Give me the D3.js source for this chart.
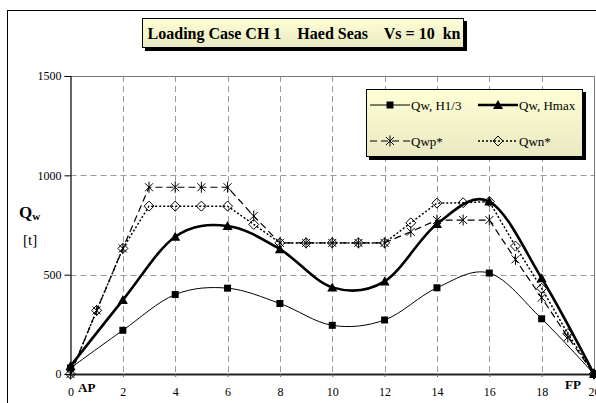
<!DOCTYPE html>
<html>
<head>
<meta charset="utf-8">
<script src="https://cdn.jsdelivr.net/npm/d3@7"></script>
<style>
  body { margin: 0; background: #fff; }
  text { font-family: "Liberation Serif", "Times New Roman", serif; }
</style>
</head>
<body>
<div id="chart"></div>
<script>
// stations along the ship, AP = 0, FP = 20
var evenStations = [0, 2, 4, 6, 8, 10, 12, 14, 16, 18, 20];
var allStations = [0, 1, 2, 3, 4, 5, 6, 7, 8, 9, 10, 11, 12, 13, 14, 15, 16, 17, 18, 19, 20];

var qwH13  = [30, 220, 400, 432, 355, 245, 272, 434, 508, 278, 0];
var qwHmax = [40, 372, 691, 745, 628, 436, 466, 755, 868, 482, 0];
var qwp = [0, 320, 632, 940, 940, 940, 940, 795, 660, 660, 660, 660, 660, 716, 775, 775, 775, 577, 384, 186, 0];
var qwn = [0, 320, 632, 845, 845, 845, 845, 753, 660, 660, 660, 660, 660, 761, 860, 862, 868, 644, 431, 203, 0];

var xTicks = [0, 2, 4, 6, 8, 10, 12, 14, 16, 18, 20];
var yTicks = [0, 500, 1000, 1500];
var gridY = [500, 1000];
var gridX = [2, 4, 6, 8, 10, 12, 14, 16, 18];

var titleText = "Loading Case CH 1    Haed Seas    Vs = 10  kn";

var W = 596, H = 403;
var svg = d3.select("#chart").append("svg")
    .attr("width", W)
    .attr("height", H);

var defs = svg.append("defs");
var grad = defs.append("linearGradient").attr("id", "yel").attr("x1", 0).attr("y1", 0).attr("x2", 0).attr("y2", 1);
grad.append("stop").attr("offset", "0%").attr("stop-color", "#ffffd6");
grad.append("stop").attr("offset", "100%").attr("stop-color", "#e8e8c2");

// outer chart frame (runs off the right / bottom edge)
svg.append("rect")
    .attr("x", 7.5).attr("y", 10.5)
    .attr("width", 640).attr("height", 440)
    .attr("fill", "none").attr("stroke", "#000").attr("stroke-width", 1);

var x = d3.scaleLinear().domain([0, 20]).range([70.5, 594]);
var y = d3.scaleLinear().domain([0, 1500]).range([374, 76]);

// grid
svg.append("g").selectAll("line").data(gridY).enter().append("line")
    .attr("x1", x(0)).attr("x2", x(20))
    .attr("y1", function(d) { return Math.round(y(d)) + 0.5; })
    .attr("y2", function(d) { return Math.round(y(d)) + 0.5; })
    .attr("stroke", "#999").attr("stroke-dasharray", "6,4");
svg.append("g").selectAll("line").data(gridX).enter().append("line")
    .attr("x1", function(d) { return Math.round(x(d)) + 0.5; })
    .attr("x2", function(d) { return Math.round(x(d)) + 0.5; })
    .attr("y1", y(1500)).attr("y2", y(0))
    .attr("stroke", "#999").attr("stroke-dasharray", "6,4");

// plot top / right border
svg.append("path")
    .attr("d", "M" + x(0) + "," + (y(1500) + 0.5) + "H" + (x(20) + 0.5) + "V" + y(0))
    .attr("fill", "none").attr("stroke", "#777").attr("stroke-width", 1);

// axes
var yAxis = svg.append("g")
    .attr("transform", "translate(" + x(0) + ",0)")
    .call(d3.axisLeft(y).tickValues(yTicks).tickSize(6).tickPadding(3).tickFormat(d3.format("d")));
yAxis.select(".domain").attr("stroke", "#000").attr("stroke-width", 1.2);
yAxis.selectAll("text").attr("font-size", 12).attr("fill", "#000");

var xAxis = svg.append("g")
    .attr("transform", "translate(0," + y(0) + ")")
    .call(d3.axisBottom(x).tickValues(xTicks).tickSize(3).tickPadding(10).tickSizeOuter(0));
xAxis.select(".domain").attr("stroke", "#222").attr("stroke-width", 2);
xAxis.selectAll("line").attr("stroke", "#666");
xAxis.selectAll("text").attr("font-size", 12).attr("fill", "#000");

svg.append("text").attr("x", 78).attr("y", 392)
    .attr("font-size", 13).attr("font-weight", "bold").text("AP");
svg.append("text").attr("x", 565).attr("y", 389)
    .attr("font-size", 13).attr("font-weight", "bold").text("FP");

// y title
var qt = svg.append("text").attr("x", 19).attr("y", 218)
    .attr("font-size", 17).attr("font-weight", "bold");
qt.append("tspan").text("Q");
qt.append("tspan").attr("font-size", 11).attr("dy", 2).text("w");
svg.append("text").attr("x", 23).attr("y", 245).attr("font-size", 15).text("[t]");

// series
var h13Data = evenStations.map(function(s, i) { return {x: s, y: qwH13[i]}; });
var hmaxData = evenStations.map(function(s, i) { return {x: s, y: qwHmax[i]}; });
var qwpData = allStations.map(function(s, i) { return {x: s, y: qwp[i]}; });
var qwnData = allStations.map(function(s, i) { return {x: s, y: qwn[i]}; });

var smooth = d3.line().x(function(d) { return x(d.x); }).y(function(d) { return y(d.y); }).curve(d3.curveCardinal.tension(0));
var straight = d3.line().x(function(d) { return x(d.x); }).y(function(d) { return y(d.y); });

var series = [
  {name: "Qw, H1/3", data: h13Data, line: smooth, width: 1, dash: null, marker: "square"},
  {name: "Qw, Hmax", data: hmaxData, line: smooth, width: 2.6, dash: null, marker: "triangle"},
  {name: "Qwp*", data: qwpData, line: straight, width: 1.2, dash: "7,4", marker: "star"},
  {name: "Qwn*", data: qwnData, line: straight, width: 1.5, dash: "2,2", marker: "diamond"}
];

function markerPath(type) {
  if (type === "square") return "M-3.5,-3.5H3.5V3.5H-3.5Z";
  if (type === "triangle") return "M0,-5L5,4L-5,4Z";
  if (type === "diamond") return "M0,-5L5,0L0,5L-5,0Z";
  return "M-4,-4L4,4M-4,4L4,-4M0,-5.5V5.5";
}
function markerStyle(sel, type) {
  if (type === "square" || type === "triangle") {
    sel.attr("fill", "#000").attr("stroke", "none");
  } else {
    sel.attr("fill", "none").attr("stroke", "#000").attr("stroke-width", 1);
  }
}

series.forEach(function(s) {
  svg.append("path")
    .datum(s.data)
    .attr("fill", "none")
    .attr("stroke", "#000")
    .attr("stroke-width", s.width)
    .attr("stroke-dasharray", s.dash)
    .attr("d", s.line);
});
series.forEach(function(s) {
  svg.append("g").selectAll("path").data(s.data).enter().append("path")
    .attr("transform", function(d) { return "translate(" + x(d.x) + "," + y(d.y) + ")"; })
    .attr("d", markerPath(s.marker))
    .call(markerStyle, s.marker);
});

// title box
svg.append("rect").attr("x", 145).attr("y", 21).attr("width", 322).attr("height", 30).attr("fill", "#000");
svg.append("rect").attr("x", 142.5).attr("y", 18.5).attr("width", 321).attr("height", 29)
    .attr("fill", "url(#yel)").attr("stroke", "#000").attr("stroke-width", 1);
svg.append("text").attr("x", 304).attr("y", 39)
    .attr("text-anchor", "middle").attr("font-size", 16).attr("font-weight", "bold")
    .style("white-space", "pre")
    .text(titleText);

// legend
var lg = svg.append("g");
lg.append("rect").attr("x", 369).attr("y", 92).attr("width", 217).attr("height", 68).attr("fill", "#000");
lg.append("rect").attr("x", 366.5).attr("y", 89.5).attr("width", 216).attr("height", 67)
    .attr("fill", "url(#yel)").attr("stroke", "#000").attr("stroke-width", 1);
var legPos = [[370, 105], [478, 105], [370, 141], [478, 141]];
series.forEach(function(s, i) {
  var p = legPos[i];
  lg.append("line").attr("x1", p[0]).attr("x2", p[0] + 40).attr("y1", p[1]).attr("y2", p[1])
    .attr("stroke", "#000").attr("stroke-width", s.width).attr("stroke-dasharray", s.dash);
  lg.append("path").attr("transform", "translate(" + (p[0] + 20) + "," + p[1] + ")")
    .attr("d", markerPath(s.marker)).call(markerStyle, s.marker);
  lg.append("text").attr("x", p[0] + 41).attr("y", p[1] + 4.5)
    .attr("font-size", 13).text(s.name);
});
</script>
</body>
</html>
